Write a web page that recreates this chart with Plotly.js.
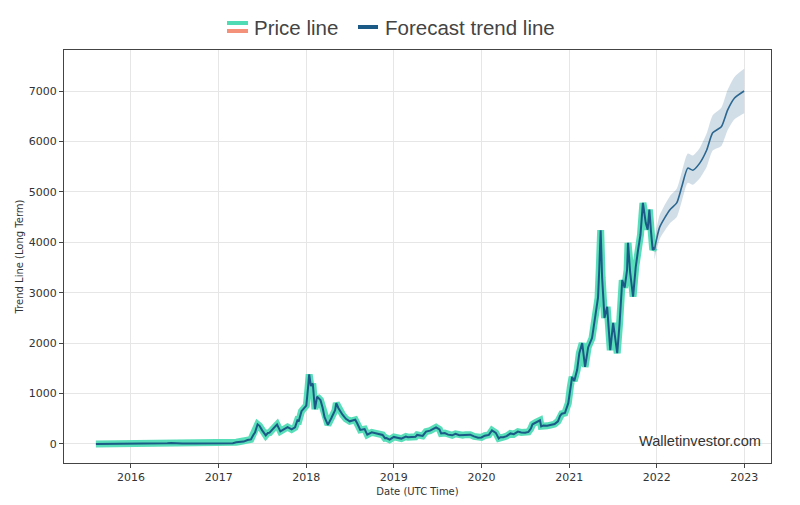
<!DOCTYPE html>
<html>
<head>
<meta charset="utf-8">
<script src="https://cdn.plot.ly/plotly-3.0.1.min.js"></script>
<style>html,body{margin:0;padding:0;background:#fff;}#chart{width:800px;height:505px;}</style>
</head>
<body>
<div id="chart"></div>
<script>
// ---- data ----
const priceDates = [
"2015-08-08","2015-09-01","2015-10-01","2015-11-01","2015-12-01","2016-01-01","2016-02-01","2016-03-01","2016-03-13","2016-04-01",
"2016-05-01","2016-06-01","2016-06-17","2016-07-01","2016-08-01","2016-09-01","2016-10-01","2016-11-01","2016-12-01","2017-01-01",
"2017-02-01","2017-03-01","2017-03-15","2017-04-01","2017-04-15","2017-05-01","2017-05-15","2017-05-25","2017-06-01","2017-06-12",
"2017-06-20","2017-07-01","2017-07-16","2017-07-25","2017-08-01","2017-08-15","2017-09-01","2017-09-15","2017-10-01","2017-10-15",
"2017-11-01","2017-11-15","2017-11-25","2017-12-01","2017-12-12","2017-12-22","2018-01-01","2018-01-08","2018-01-13","2018-01-20",
"2018-01-28","2018-02-06","2018-02-15","2018-03-01","2018-03-10","2018-03-18","2018-04-01","2018-04-15","2018-05-01","2018-05-06",
"2018-05-15","2018-06-01","2018-06-15","2018-07-01","2018-07-24","2018-08-01","2018-08-14","2018-09-01","2018-09-12","2018-10-01",
"2018-10-15","2018-11-01","2018-11-15","2018-11-25","2018-12-01","2018-12-14","2018-12-25","2019-01-01","2019-01-15","2019-02-01",
"2019-02-20","2019-03-01","2019-04-01","2019-04-08","2019-05-01","2019-05-15","2019-06-01","2019-06-26","2019-07-10","2019-07-17",
"2019-08-01","2019-08-15","2019-09-01","2019-09-15","2019-10-01","2019-10-15","2019-10-27","2019-11-15","2019-12-01","2019-12-18",
"2020-01-01","2020-01-15","2020-02-01","2020-02-14","2020-03-01","2020-03-13","2020-03-20","2020-04-01","2020-04-15","2020-05-01",
"2020-05-15","2020-06-01","2020-06-15","2020-07-01","2020-07-15","2020-07-25","2020-08-01","2020-08-15","2020-09-01","2020-09-06",
"2020-09-15","2020-10-01","2020-10-15","2020-11-01","2020-11-15","2020-11-24","2020-12-01","2020-12-14","2020-12-28","2021-01-06",
"2021-01-13","2021-01-22","2021-02-03","2021-02-12","2021-02-24","2021-03-08","2021-03-21","2021-04-06","2021-04-18","2021-05-01",
"2021-05-06","2021-05-12","2021-05-18","2021-05-22","2021-05-28","2021-06-08","2021-06-21","2021-07-03","2021-07-12","2021-07-20",
"2021-07-30","2021-08-10","2021-08-20","2021-08-30","2021-09-03","2021-09-12","2021-09-24","2021-10-05","2021-10-15","2021-10-25",
"2021-11-04","2021-11-10","2021-11-16","2021-11-24","2021-12-01","2021-12-08","2021-12-15","2021-12-22"
];
const priceValues = [
1,1.3,0.7,1,0.9,0.95,2.3,8,14,11.5,
8.9,14,20,12.5,10.5,12,13,11,8.5,8.2,
10.7,17,35,50,48,78,90,180,225,390,
360,270,170,220,225,300,385,250,300,335,
290,330,470,460,650,700,760,1100,1380,1150,
1200,690,940,870,720,530,380,510,670,810,
710,580,500,450,480,410,280,295,185,230,
210,200,180,115,118,85,130,140,125,107,
148,136,142,180,160,245,265,330,290,210,
218,185,172,200,175,175,185,185,150,125,
130,165,180,270,220,110,135,135,155,210,
195,245,230,225,240,305,390,430,470,350,
365,360,375,395,450,560,600,615,810,1150,
1330,1250,1470,1800,2000,1530,1920,2100,2460,2900,
3450,4240,3300,2860,2500,2720,1860,2400,2050,1800,
2400,3250,3100,3450,3990,3400,2920,3500,3850,4150,
4780,4600,4380,4250,4650,4200,3850,3900
];
const forecastDates = ["2021-12-22","2022-01-13","2022-02-24","2022-03-25","2022-04-15","2022-05-10","2022-05-31","2022-06-29","2022-07-28","2022-08-22","2022-09-27","2022-10-23","2022-11-21","2022-12-31"];
const forecastValues = [3850,4300,4640,4780,5100,5470,5430,5570,5830,6170,6290,6620,6860,7000];
const forecastUpper  = [4050,4540,4910,5060,5390,5760,5720,5870,6160,6520,6670,7020,7280,7440];
const forecastLower  = [3650,4060,4370,4500,4810,5180,5140,5270,5500,5820,5910,6220,6440,6560];
const yTicks = [0,1000,2000,3000,4000,5000,6000,7000];
const xTickVals = ["2016-01-01","2017-01-01","2018-01-01","2019-01-01","2020-01-01","2021-01-01","2022-01-01","2023-01-01"];
const xTickText = ["2016","2017","2018","2019","2020","2021","2022","2023"];

const teal = "#4fdcb4";
const dark = "#1b5a86";

const traces = [
  {x: forecastDates, y: forecastUpper, mode: "lines", line: {width: 0, color: "rgba(0,0,0,0)", shape: "spline", smoothing: 0.6}, showlegend: false, hoverinfo: "skip"},
  {x: forecastDates, y: forecastLower, mode: "lines", line: {width: 0, color: "rgba(0,0,0,0)", shape: "spline", smoothing: 0.6}, fill: "tonexty", fillcolor: "rgba(90,135,170,0.28)", showlegend: false, hoverinfo: "skip"},
  {x: priceDates, y: priceValues, mode: "lines", line: {color: teal, width: 7}, opacity: 0.95, showlegend: false},
  {x: priceDates, y: priceValues, mode: "lines", line: {color: dark, width: 2}, showlegend: false},
  {x: forecastDates, y: forecastValues, mode: "lines", line: {color: "#2b6790", width: 1.6, shape: "spline", smoothing: 0.6}, showlegend: false}
];

const P = (px) => (px - 64) / 707;
const Q = (py) => (463 - py) / 413;

const layout = {
  width: 800, height: 505,
  margin: {l: 64, r: 29, t: 50, b: 42},
  paper_bgcolor: "#ffffff", plot_bgcolor: "#ffffff",
  showlegend: false,
  font: {family: "DejaVu Sans", size: 11, color: "#333"},
  xaxis: {
    type: "date",
    range: ["2015-03-28", "2023-04-22"],
    tickvals: xTickVals, ticktext: xTickText,
    showgrid: true, gridcolor: "#e6e6e6", gridwidth: 1,
    ticks: "outside", ticklen: 4, tickcolor: "#444",
    showline: true, linecolor: "#444", linewidth: 1, mirror: true,
    zeroline: false,
    tickfont: {family: "DejaVu Sans", size: 11, color: "#333"},
    title: {text: "Date (UTC Time)", font: {family: "DejaVu Sans", size: 10, color: "#333"}, standoff: 4}
  },
  yaxis: {
    range: [-377, 7813],
    tickvals: yTicks,
    showgrid: true, gridcolor: "#e6e6e6", gridwidth: 1,
    ticks: "outside", ticklen: 4, tickcolor: "#444",
    showline: true, linecolor: "#444", linewidth: 1, mirror: true,
    zeroline: false,
    tickfont: {family: "DejaVu Sans", size: 11, color: "#333"},
    title: {text: "Trend Line (Long Term)", font: {family: "DejaVu Sans", size: 10, color: "#333"}, standoff: 3}
  },
  shapes: [
    {type: "line", xref: "paper", yref: "paper", x0: P(227), x1: P(248), y0: Q(23), y1: Q(23), line: {color: teal, width: 4}},
    {type: "line", xref: "paper", yref: "paper", x0: P(227), x1: P(248), y0: Q(31), y1: Q(31), line: {color: "#f4917a", width: 4}},
    {type: "line", xref: "paper", yref: "paper", x0: P(358), x1: P(378), y0: Q(27), y1: Q(27), line: {color: "#1b5a86", width: 4}}
  ],
  annotations: [
    {xref: "paper", yref: "paper", x: P(252), y: Q(27), xanchor: "left", yanchor: "middle", showarrow: false,
     text: "Price line", font: {family: "Liberation Sans", size: 20.5, color: "#444"}},
    {xref: "paper", yref: "paper", x: P(383), y: Q(27), xanchor: "left", yanchor: "middle", showarrow: false,
     text: "Forecast trend line", font: {family: "Liberation Sans", size: 20.5, color: "#444"}},
    {xref: "paper", yref: "paper", x: P(763), y: Q(441), xanchor: "right", yanchor: "middle", showarrow: false,
     text: "Walletinvestor.com", font: {family: "Liberation Sans", size: 14.6, color: "#333"}}
  ]
};

Plotly.newPlot("chart", traces, layout, {displayModeBar: false, staticPlot: true});
</script>
</body>
</html>
